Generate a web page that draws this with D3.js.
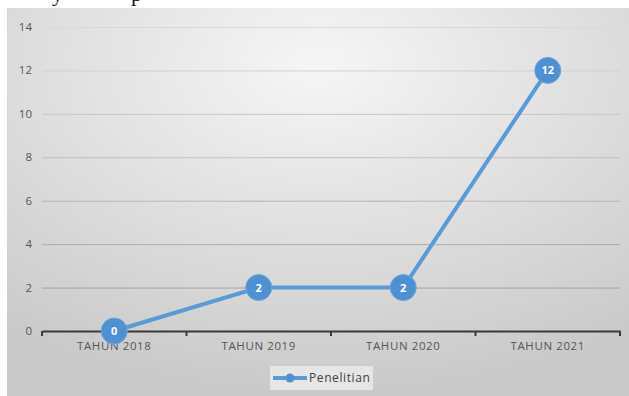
<!DOCTYPE html>
<html>
<head>
<meta charset="utf-8">
<script src="https://cdn.jsdelivr.net/npm/d3@7"></script>
<style>
  body { margin: 0; background: #fff; }
  svg { display: block; }
</style>
</head>
<body>
<div id="chart"></div>
<script>
// data
const years = ["TAHUN 2018", "TAHUN 2019", "TAHUN 2020", "TAHUN 2021"];
const penelitian = [0, 2, 2, 12];
const yTicks = [0, 2, 4, 6, 8, 10, 12, 14];
const seriesName = "Penelitian";

const width = 629, height = 396;
const blue = "#5b9bd5";

const svg = d3.select("#chart").append("svg")
  .attr("width", width)
  .attr("height", height);

const defs = svg.append("defs");
const bg = defs.append("radialGradient")
  .attr("id", "bg")
  .attr("cx", "50%").attr("cy", "15%").attr("r", "85%");
bg.append("stop").attr("offset", "0%").attr("stop-color", "#f6f6f6");
bg.append("stop").attr("offset", "100%").attr("stop-color", "#c9c9c9");

const gridGrad = defs.append("linearGradient")
  .attr("id", "gridGrad")
  .attr("gradientUnits", "userSpaceOnUse")
  .attr("x1", 0).attr("y1", 20).attr("x2", 0).attr("y2", 330);
gridGrad.append("stop").attr("offset", "0%").attr("stop-color", "#dadada");
gridGrad.append("stop").attr("offset", "100%").attr("stop-color", "#9a9a9a");

// descenders of the document line cut off above the chart
svg.append("text").attr("x", 52).attr("y", 1)
  .attr("font-family", "Liberation Serif").attr("font-size", 22).attr("fill", "#111")
  .text("y");
svg.append("text").attr("x", 131).attr("y", 1)
  .attr("font-family", "Liberation Serif").attr("font-size", 22).attr("fill", "#111")
  .text("p");

// chart area
svg.append("rect")
  .attr("x", 7).attr("y", 8)
  .attr("width", width - 7).attr("height", height - 8)
  .attr("fill", "url(#bg)");

const x = d3.scaleBand().domain(years).range([42, 620]);
const y = d3.scaleLinear().domain([0, 14]).range([331, 27]);

// gridlines
svg.append("g")
  .selectAll("line")
  .data(yTicks.filter(d => d > 0))
  .join("line")
  .attr("x1", 42).attr("x2", 620)
  .attr("y1", d => y(d) + 0.5).attr("y2", d => y(d) + 0.5)
  .attr("stroke", "url(#gridGrad)")
  .attr("stroke-width", 1);

// y labels
svg.append("g")
  .selectAll("text")
  .data(yTicks)
  .join("text")
  .attr("x", 32)
  .attr("y", d => y(d))
  .attr("dy", "0.35em")
  .attr("text-anchor", "end")
  .attr("font-family", "Open Sans")
  .attr("font-size", 11.5)
  .attr("fill", "#555")
  .text(d => d);

// x axis
const xAxis = svg.append("g")
  .attr("transform", `translate(0,${y(0)})`)
  .call(d3.axisBottom(x).tickSize(0).tickSizeOuter(0).tickPadding(11));
xAxis.select(".domain").attr("stroke", "#3a3a3a").attr("stroke-width", 2);
xAxis.selectAll("text")
  .attr("font-family", "Open Sans")
  .attr("font-size", 11.5)
  .attr("letter-spacing", 0.6)
  .attr("fill", "#555");
xAxis.selectAll(".bound")
  .data(years.concat(["end"]))
  .join("line")
  .attr("class", "bound")
  .attr("x1", (d, i) => i < years.length ? x(d) : x.range()[1])
  .attr("x2", (d, i) => i < years.length ? x(d) : x.range()[1])
  .attr("y1", 0).attr("y2", 5)
  .attr("stroke", "#3a3a3a").attr("stroke-width", 2);

// line
const pts = years.map((d, i) => ({ cat: d, v: penelitian[i] }));
svg.append("path")
  .datum(pts)
  .attr("fill", "none")
  .attr("stroke", blue)
  .attr("stroke-width", 4)
  .attr("stroke-linejoin", "round")
  .attr("d", d3.line().x(d => x(d.cat) + x.bandwidth() / 2).y(d => y(d.v)));

// markers with labels
const mk = svg.append("g").selectAll("g")
  .data(pts)
  .join("g")
  .attr("transform", d => `translate(${x(d.cat) + x.bandwidth() / 2},${y(d.v)})`);
mk.append("circle")
  .attr("r", 13)
  .attr("fill", "#4f90d3")
  .attr("stroke", "#6aa5dc")
  .attr("stroke-width", 1);
mk.append("text")
  .attr("text-anchor", "middle")
  .attr("dy", "0.36em")
  .attr("font-family", "Open Sans")
  .attr("font-weight", "bold")
  .attr("font-size", 11)
  .attr("fill", "#fff")
  .text(d => d.v);

// legend
const lg = svg.append("g").attr("transform", "translate(270,366)");
lg.append("rect").attr("width", 103).attr("height", 24).attr("fill", "#ececec").attr("opacity", 0.8);
lg.append("line").attr("x1", 3).attr("x2", 37).attr("y1", 12).attr("y2", 12)
  .attr("stroke", blue).attr("stroke-width", 4);
lg.append("circle").attr("cx", 20).attr("cy", 12).attr("r", 4.5).attr("fill", "#4f90d3");
lg.append("text").attr("x", 39).attr("y", 12).attr("dy", "0.35em")
  .attr("font-family", "Open Sans").attr("font-size", 12).attr("letter-spacing", 0.6)
  .attr("fill", "#404040")
  .text(seriesName);
</script>
</body>
</html>
